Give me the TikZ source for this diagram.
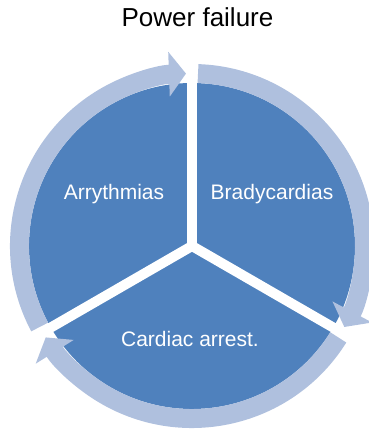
\documentclass[tikz,border=0pt]{standalone}
\usepackage{fontspec}
\setmainfont{Liberation Sans}
\usetikzlibrary{arrows.meta}
\definecolor{wedge}{HTML}{4F81BD}
\definecolor{cycle}{HTML}{AFC0DE}
\begin{document}
\begin{tikzpicture}[x=1pt,y=1pt,
  ring/.style={draw=cycle, line width=19pt, line cap=butt,
    -{Triangle[width=44pt,length=17pt]}},
  seglabel/.style={text=white, font=\fontsize{21}{25}\selectfont,
    anchor=base, inner sep=0pt},
  gap/.style={draw=white, line width=10pt}]
\useasboundingbox (0,0) rectangle (368,430);
\coordinate (C) at (192,184);
% pie with three sectors separated by white gaps
\fill[wedge] (C) circle[radius=163];
\foreach \a in {90,210,330} \draw[gap] (C) -- ++(\a:166);
% clockwise cycle arrows
\draw[ring] ([shift={(88:172.5)}]C) arc[start angle=88,end angle=-28,radius=172.5];
\draw[ring] ([shift={(-32:172.5)}]C) arc[start angle=-32,end angle=-148,radius=172.5];
\draw[ring] ([shift={(208:172.5)}]C) arc[start angle=208,end angle=92,radius=172.5];
% labels
\node[font=\fontsize{26}{30}\selectfont, anchor=base, inner sep=0pt] (title) at (197.5,403) {Power failure};
\node[seglabel] (arr) at (114,230) {Arrythmias};
\node[seglabel] (brady) at (272,230) {Bradycardias};
\node[seglabel] (arrest) at (190,83) {Cardiac arrest.};
\end{tikzpicture}
\end{document}
